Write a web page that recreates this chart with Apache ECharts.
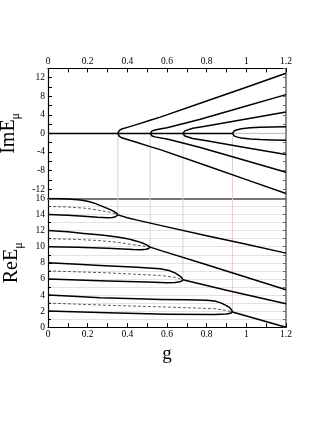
<!DOCTYPE html>
<html><head><meta charset="utf-8">
<script src="https://cdn.jsdelivr.net/npm/echarts@6/dist/echarts.min.js"></script>
<style>html,body{margin:0;padding:0;background:#fff}#c{width:327px;height:423px}</style>
</head><body><div id="c"></div>
<script>
// ---------- data ----------
const X_TICKS = [0, 0.2, 0.4, 0.6, 0.8, 1, 1.2];
const IM_TICKS = [12, 8, 4, 0, -4, -8, -12];
const RE_TICKS = [0, 2, 4, 6, 8, 10, 12, 14, 16];
// exceptional points
const G_EP = [0.352, 0.515, 0.68, 0.93];
const RE_EP = [13.95, 9.95, 5.9, 1.9];

// Im parts
const imZero = [[0, 0], [0.93, 0]];
const imZeroGrey = [[0, 0], [1.2, 0]];
const im1Up = [[0.352, 0], [0.354, 0.35], [0.36, 0.65], [0.372, 0.95], [0.4, 1.3], [0.45, 1.95], [0.515, 2.85], [0.566, 3.5], [0.8, 6.97], [1.0, 9.95], [1.2, 12.95]];
const im1Dn = [[0.352, 0], [0.354, -0.35], [0.36, -0.65], [0.372, -0.95], [0.4, -1.3], [0.45, -1.95], [0.515, -2.85], [0.566, -3.5], [0.8, -6.97], [1.0, -9.95], [1.2, -12.95]];
const im2Up = [[0.515, 0], [0.517, 0.3], [0.525, 0.55], [0.54, 0.75], [0.57, 1.0], [0.6, 1.2], [0.7, 2.3], [0.768, 3.05], [1.0, 5.9], [1.2, 8.35]];
const im2Dn = [[0.515, 0], [0.517, -0.3], [0.525, -0.55], [0.54, -0.75], [0.57, -1.0], [0.6, -1.2], [0.7, -2.3], [0.768, -3.05], [1.0, -5.9], [1.2, -8.35]];
const im3Up = [[0.68, 0], [0.683, 0.3], [0.69, 0.55], [0.7, 0.75], [0.73, 1.1], [0.8, 1.6], [0.9, 2.35], [1.0, 3.1], [1.2, 4.6]];
const im3Dn = [[0.68, 0], [0.683, -0.3], [0.69, -0.55], [0.7, -0.75], [0.73, -1.1], [0.8, -1.6], [0.9, -2.35], [1.0, -3.1], [1.2, -4.55]];
const im4Up = [[0.93, 0], [0.932, 0.3], [0.94, 0.58], [0.955, 0.8], [0.975, 1.0], [1.02, 1.2], [1.07, 1.32], [1.13, 1.4], [1.2, 1.45]];
const im4Dn = [[0.93, 0], [0.932, -0.3], [0.94, -0.58], [0.955, -0.8], [0.975, -1.0], [1.02, -1.2], [1.07, -1.32], [1.13, -1.4], [1.2, -1.45]];

// Re parts
const re16 = [[0, 16], [0.05, 15.98], [0.1, 15.93], [0.15, 15.83], [0.18, 15.75], [0.21, 15.58], [0.24, 15.35], [0.28, 14.95], [0.314, 14.6], [0.335, 14.35], [0.345, 14.18], [0.35, 14.05], [0.352, 13.95]];
const re14 = [[0, 14], [0.1, 13.9], [0.18, 13.77], [0.25, 13.65], [0.3, 13.6], [0.325, 13.63], [0.34, 13.72], [0.348, 13.82], [0.352, 13.95]];
const re15 = [[0, 15], [0.1, 14.93], [0.18, 14.8], [0.25, 14.55], [0.3, 14.35], [0.34, 14.1], [0.352, 13.95]];
const reA = [[0.352, 13.95], [0.4, 13.6], [0.45, 13.3], [0.566, 12.65], [0.8, 11.35], [1.0, 10.3], [1.2, 9.2]];

const re12 = [[0, 12], [0.1, 11.85], [0.18, 11.65], [0.27, 11.45], [0.35, 11.2], [0.4, 11.0], [0.43, 10.8], [0.46, 10.6], [0.48, 10.42], [0.5, 10.2], [0.51, 10.07], [0.515, 9.95]];
const re10 = [[0, 10], [0.15, 9.92], [0.3, 9.82], [0.43, 9.65], [0.47, 9.63], [0.495, 9.68], [0.508, 9.78], [0.515, 9.95]];
const re11 = [[0, 11], [0.15, 10.9], [0.263, 10.75], [0.35, 10.55], [0.43, 10.25], [0.49, 10.05], [0.515, 9.95]];
const reB = [[0.515, 9.95], [0.566, 9.54], [0.8, 7.75], [1.0, 6.2], [1.2, 4.65]];

const re8 = [[0, 8], [0.15, 7.82], [0.263, 7.67], [0.45, 7.45], [0.566, 7.26], [0.61, 7.05], [0.64, 6.75], [0.66, 6.45], [0.673, 6.2], [0.68, 5.9]];
const re6 = [[0, 6], [0.3, 5.75], [0.5, 5.6], [0.6, 5.52], [0.64, 5.55], [0.665, 5.65], [0.676, 5.75], [0.68, 5.9]];
const re7 = [[0, 7], [0.3, 6.75], [0.566, 6.43], [0.64, 6.2], [0.68, 5.9]];
const reC = [[0.68, 5.9], [0.9, 4.6], [1.2, 2.9]];

const re4 = [[0, 4], [0.15, 3.8], [0.263, 3.65], [0.45, 3.52], [0.566, 3.45], [0.7, 3.42], [0.8, 3.36], [0.84, 3.25], [0.868, 3.05], [0.895, 2.75], [0.915, 2.45], [0.926, 2.15], [0.93, 1.9]];
const re2 = [[0, 2], [0.3, 1.8], [0.6, 1.62], [0.84, 1.58], [0.9, 1.64], [0.92, 1.72], [0.928, 1.8], [0.93, 1.9]];
const re3 = [[0, 3], [0.3, 2.72], [0.6, 2.5], [0.84, 2.3], [0.9, 2.07], [0.93, 1.9]];
const reD = [[0.93, 1.9], [1.2, 0]];

// ---------- chart ----------
const SERIF = "'Liberation Serif','DejaVu Serif',serif";
const chart = echarts.init(document.getElementById('c'), null, {renderer: 'canvas'});
const gridL = 48, gridR = 41;
const topT = 68.4, topH = 130, botT = 198.4, botH = 128.8;
const lbl = {fontFamily: SERIF, fontSize: 9.5, color: '#000'};

function xa(grid, pos, showLbl, extra) {
  return Object.assign({
    type: 'value', gridIndex: grid, position: pos, min: 0, max: 1.2, interval: 0.2,
    axisLine: {show: true, onZero: false, lineStyle: {color: '#000', width: 1.2}},
    axisTick: {show: showLbl, inside: true, length: 4, lineStyle: {color: '#000'}},
    minorTick: {show: showLbl, splitNumber: 2, length: 4, lineStyle: {color: '#000'}},
    axisLabel: {show: showLbl, margin: 2, ...lbl, formatter: v => X_TICKS.indexOf(+v.toFixed(2)) >= 0 ? String(+v.toFixed(2)) : ''},
    splitLine: {show: false}
  }, extra || {});
}

const black = (d, xi, yi) => ({type: 'line', data: d, xAxisIndex: xi, yAxisIndex: yi, showSymbol: false, smooth: false,
  lineStyle: {color: '#000', width: 1.5, join: 'round'}, z: 5, silent: true});
const dashed = (d) => ({type: 'line', data: d, xAxisIndex: 1, yAxisIndex: 1, showSymbol: false, smooth: false,
  lineStyle: {color: '#333', width: 0.8, type: [3, 2]}, z: 4, silent: true});
const thin = (d, xi, yi, col) => ({type: 'line', data: d, xAxisIndex: xi, yAxisIndex: yi, showSymbol: false,
  lineStyle: {color: col, width: 1}, z: 2, silent: true});

const series = [];
series.push(thin(imZeroGrey, 0, 0, '#bbbbbb'));
G_EP.forEach((g, i) => {
  series.push(thin([[g, 0], [g, -14]], 0, 0, '#e3c9dc'));
  series.push(thin([[g, 16], [g, RE_EP[i]]], 1, 1, '#e3c9dc'));
});
[imZero, im1Up, im1Dn, im2Up, im2Dn, im3Up, im3Dn, im4Up, im4Dn].forEach(d => series.push(black(d, 0, 0)));
[re16, re14, reA, re12, re10, reB, re8, re6, reC, re4, re2, reD].forEach(d => series.push(black(d, 1, 1)));
[re15, re11, re7, re3].forEach(d => series.push(dashed(d)));

chart.setOption({
  animation: false,
  backgroundColor: '#fff',
  grid: [
    {left: gridL, right: gridR, top: topT, height: topH, outerBoundsMode: 'none', containLabel: false},
    {left: gridL, right: gridR, top: botT, height: botH, outerBoundsMode: 'none', containLabel: false}
  ],
  xAxis: [
    xa(0, 'top', true),
    xa(1, 'bottom', true, {name: 'g', nameLocation: 'middle', nameGap: 17,
      nameTextStyle: {fontFamily: SERIF, fontSize: 19, color: '#000'}}),
    xa(0, 'bottom', false, {axisLine: {show: true, onZero: false, lineStyle: {color: '#777', width: 2}}}),
    xa(1, 'top', false, {axisLine: {show: true, onZero: false, lineStyle: {color: '#777', width: 2}}})
  ],
  yAxis: [
    {type: 'value', gridIndex: 0, position: 'left', min: -14, max: 14, interval: 2,
      axisLine: {show: true, onZero: false, lineStyle: {color: '#000', width: 1.2}},
      axisTick: {show: true, inside: true, length: 4, lineStyle: {color: '#000'}},
      axisLabel: {margin: 3, ...lbl, formatter: v => IM_TICKS.indexOf(v) >= 0 ? String(v) : ''},
      splitLine: {show: false},
      name: '{a|ImE}{b|μ}', nameLocation: 'middle', nameRotate: 90, nameGap: 6,
      nameTextStyle: {fontFamily: SERIF, color: '#000', rich: {
        a: {fontFamily: SERIF, fontSize: 20, lineHeight: 20, verticalAlign: 'top', color: '#000'},
        b: {fontFamily: SERIF, fontSize: 12, lineHeight: 34, color: '#000'}}}},
    {type: 'value', gridIndex: 1, position: 'left', min: 0, max: 16, interval: 2,
      axisLine: {show: true, onZero: false, lineStyle: {color: '#000', width: 1.2}},
      axisTick: {show: true, inside: true, length: 4, lineStyle: {color: '#000'}},
      minorTick: {show: true, splitNumber: 2, length: 3, lineStyle: {color: '#000'}},
      axisLabel: {margin: 3, ...lbl, formatter: v => RE_TICKS.indexOf(v) >= 0 ? String(v) : ''},
      splitLine: {show: true, lineStyle: {color: '#e2e2e2', width: 1}},
      minorSplitLine: {show: true, lineStyle: {color: '#e2e2e2', width: 1}},
      name: '{a|ReE}{b|μ}', nameLocation: 'middle', nameRotate: 90, nameGap: 6,
      nameTextStyle: {fontFamily: SERIF, color: '#000', rich: {
        a: {fontFamily: SERIF, fontSize: 20, lineHeight: 20, verticalAlign: 'top', color: '#000'},
        b: {fontFamily: SERIF, fontSize: 12, lineHeight: 34, color: '#000'}}}},
    {type: 'value', gridIndex: 0, position: 'right', min: -14, max: 14, interval: 2,
      axisLine: {show: true, onZero: false, lineStyle: {color: '#666', width: 1.5}},
      axisTick: {show: true, inside: true, length: 3, lineStyle: {color: '#666'}},
      axisLabel: {show: false}, splitLine: {show: false}},
    {type: 'value', gridIndex: 1, position: 'right', min: 0, max: 16, interval: 1,
      axisLine: {show: true, onZero: false, lineStyle: {color: '#666', width: 1.5}},
      axisTick: {show: true, inside: true, length: 3, lineStyle: {color: '#666'}},
      axisLabel: {show: false}, splitLine: {show: false}}
  ],
  series: series
});
</script></body></html>
